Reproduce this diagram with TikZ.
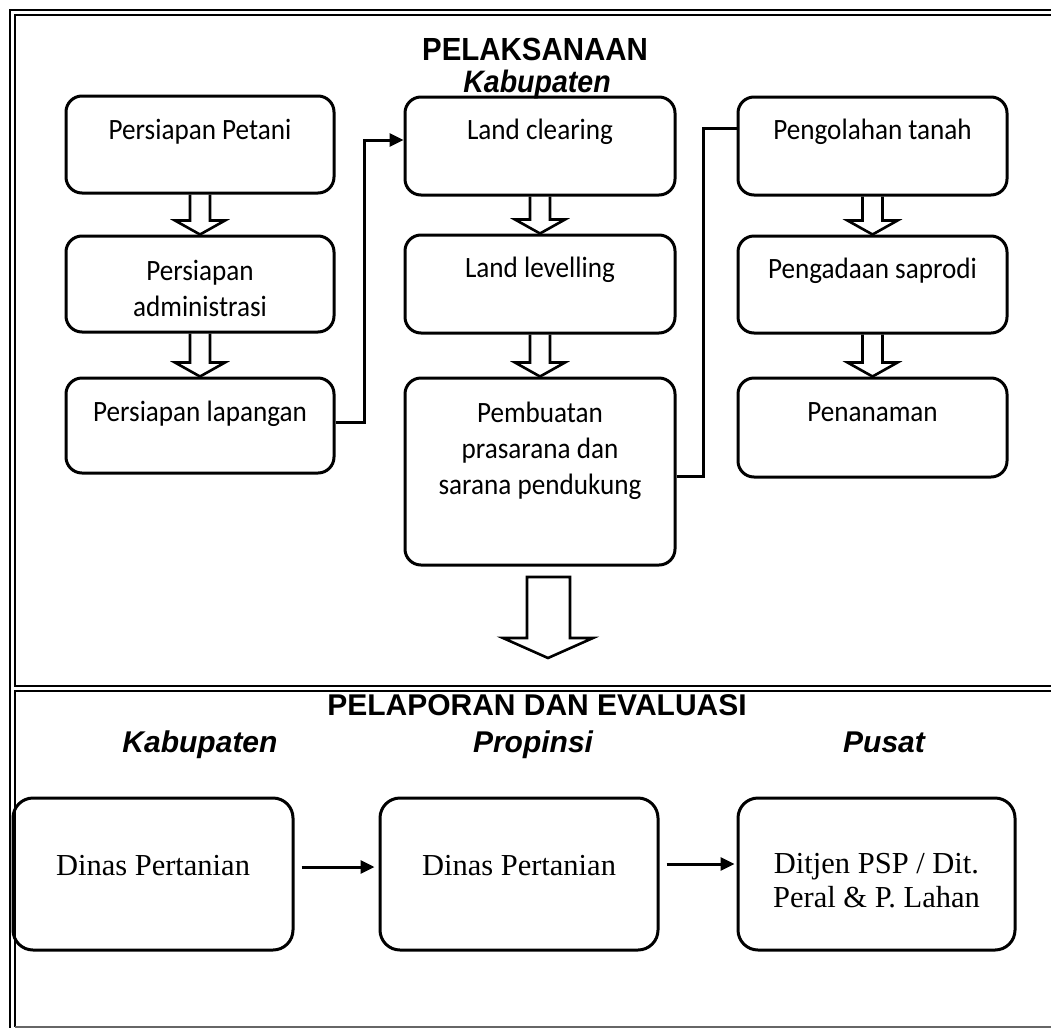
\documentclass[tikz,border=0pt]{standalone}
\usepackage{fontspec}
\setmainfont{Liberation Serif}
\newfontfamily\calib[FakeStretch=0.92]{Carlito}
\newfontfamily\arialf{Liberation Sans}
\newfontfamily\arialn[FakeStretch=0.92]{Liberation Sans}
\usetikzlibrary{arrows.meta,calc}
\begin{document}
\begin{tikzpicture}[x=1pt,y=-1pt,
  box/.style={draw, line width=3pt, rounded corners=16pt, inner sep=0pt},
  bbox/.style={draw, line width=3pt, rounded corners=20pt, inner sep=0pt},
  ttxt/.style={font=\calib\fontsize{29.5}{36}\selectfont, anchor=north, inner sep=0pt, align=center},
  btxt/.style={font=\fontsize{30.5}{34}\selectfont, anchor=north, inner sep=0pt, align=center},
  title/.style={font=\arialf\bfseries\fontsize{30}{36}\selectfont, anchor=base, inner sep=0pt},
  ntitle/.style={font=\arialn\bfseries\fontsize{32}{36}\selectfont, anchor=base, inner sep=0pt},
  nititle/.style={font=\arialn\bfseries\itshape\fontsize{31}{36}\selectfont, anchor=base, inner sep=0pt},
  ititle/.style={font=\arialf\bfseries\itshape\fontsize{30}{36}\selectfont, anchor=base, inner sep=0pt},
  frameline/.style={line width=2pt},
  conn/.style={line width=3pt},
  tipp/.style={-{Triangle[length=14pt,width=13pt]}},
  barrow/.style={line width=2.6pt, line join=miter}
]
\useasboundingbox (0,0) rectangle (1051,1028);
\clip (0,0) rectangle (1051,1028);

% frame
\draw[frameline] (1051,9.5) -- (9.5,9.5) -- (9.5,1028);
\draw[frameline] (1051,15) -- (15,15) -- (15,686) -- (1051,686);
\draw[frameline] (1051,691) -- (15,691) -- (15,1027);
\draw[line width=1.5pt, black!60] (15,1027) -- (1051,1027);

% titles
\node[ntitle] (tpel) at (535,60) {PELAKSANAAN};
\node[nititle] (tkab) at (537,92) {Kabupaten};
\node[title] (tlap) at (537,715) {PELAPORAN DAN EVALUASI};
\node[ititle] (tkab2) at (200,752) {Kabupaten};
\node[ititle] (tprop) at (533,752) {Propinsi};
\node[ititle] (tpus) at (884,752) {Pusat};

% column 1
\node[box, minimum width=268pt, minimum height=97pt] (p1) at (200,144.5) {};
\node[box, minimum width=268pt, minimum height=96pt] (p2) at (200,284) {};
\node[box, minimum width=268pt, minimum height=95pt] (p3) at (200,425.5) {};
\node[ttxt] (p1t) at ([yshift=-19.5pt]p1.north) {\strut Persiapan Petani};
\node[ttxt] (p2t) at ([yshift=-20.5pt]p2.north) {\strut Persiapan\\administrasi};
\node[ttxt] (p3t) at ([yshift=-20pt]p3.north) {\strut Persiapan lapangan};

% column 2
\node[box, minimum width=270pt, minimum height=98pt] (l1) at (540,146) {};
\node[box, minimum width=270pt, minimum height=98pt] (l2) at (540,284) {};
\node[box, minimum width=270pt, minimum height=187pt] (pb) at (540,471.5) {};
\node[ttxt] (l1t) at ([yshift=-19pt]l1.north) {\strut Land clearing};
\node[ttxt] (l2t) at ([yshift=-19pt]l2.north) {\strut Land levelling};
\node[ttxt] (pbt) at ([yshift=-20.5pt]pb.north) {\strut Pembuatan\\prasarana dan\\sarana pendukung};

% column 3
\node[box, minimum width=269pt, minimum height=98pt] (g1) at (872.5,146) {};
\node[box, minimum width=269pt, minimum height=97pt] (g2) at (872.5,284.5) {};
\node[box, minimum width=269pt, minimum height=99pt] (g3) at (872.5,427.5) {};
\node[ttxt] (g1t) at ([yshift=-19pt]g1.north) {\strut Pengolahan tanah};
\node[ttxt] (g2t) at ([yshift=-18.5pt]g2.north) {\strut Pengadaan saprodi};
\node[ttxt] (g3t) at ([yshift=-19.5pt]g3.north) {\strut Penanaman};

% double block arrows between boxes
\newcommand{\barr}[2]{%
  \draw[barrow] ($(#1.south)+(-10,0)$) -- ($(#2.north)+(-10,-14)$) -- ($(#2.north)+(-25,-14)$)
    -- (#2.north) -- ($(#2.north)+(25,-14)$) -- ($(#2.north)+(10,-14)$) -- ($(#1.south)+(10,0)$);}
\barr{p1}{p2}
\barr{p2}{p3}
\barr{l1}{l2}
\barr{l2}{pb}
\barr{g1}{g2}
\barr{g2}{g3}

% connectors between columns
\coordinate (j1) at (364,140);
\coordinate (j2) at (703,128);
\draw[conn, tipp] ([yshift=3.5pt]p3.east) -| (j1) |- ([yshift=6pt]l1.west);
\draw[conn] ([yshift=-4.5pt]pb.east) -| (j2) |- ([yshift=18pt]g1.west);

% big arrow down
\draw[barrow, line join=miter] (527,577) -- (570,577) -- (570,638) -- (593,638) -- (548,658)
  -- (503,638) -- (527,638) -- cycle;

% bottom boxes
\node[bbox, minimum width=280pt, minimum height=152pt] (d1) at (153,874) {};
\node[bbox, minimum width=278pt, minimum height=152pt] (d2) at (519,874) {};
\node[bbox, minimum width=277pt, minimum height=152pt] (d3) at (876.5,874) {};
\node[btxt] (d1t) at ([yshift=-55pt]d1.north) {\strut Dinas Pertanian};
\node[btxt] (d2t) at ([yshift=-55pt]d2.north) {\strut Dinas Pertanian};
\node[btxt] (d3t) at ([yshift=-53pt]d3.north) {\strut Ditjen PSP / Dit.\\Peral \& P. Lahan};

\draw[conn, tipp] ([xshift=7pt,yshift=7pt]d1.east) -- ([xshift=-4pt,yshift=7pt]d2.west);
\draw[conn, tipp] ([xshift=7pt,yshift=10pt]d2.east) -- ([xshift=-2pt,yshift=10pt]d3.west);
\end{tikzpicture}
\end{document}
